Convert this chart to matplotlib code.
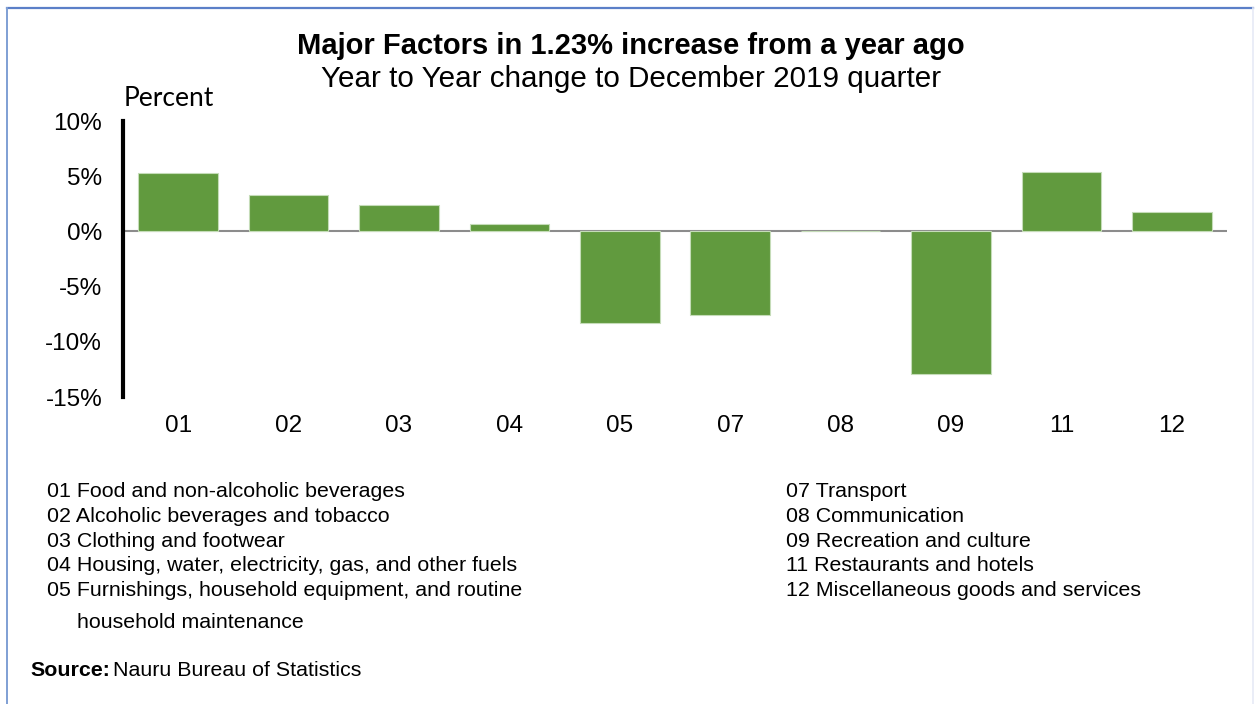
import matplotlib
matplotlib.use('Agg')
import matplotlib.pyplot as plt
from matplotlib.lines import Line2D
from matplotlib.ticker import FuncFormatter

# CPI year-to-year change by COICOP group, December 2019 quarter
groups = ['01', '02', '03', '04', '05', '07', '08', '09', '11', '12']
change = [5.3, 3.3, 2.4, 0.7, -8.3, -7.6, 0.0, -12.9, 5.4, 1.8]

legend_left = [
    '01 Food and non-alcoholic beverages',
    '02 Alcoholic beverages and tobacco',
    '03 Clothing and footwear',
    '04 Housing, water, electricity, gas, and other fuels',
    '05 Furnishings, household equipment, and routine',
]
legend_left_wrap = 'household maintenance'
legend_right = [
    '07 Transport',
    '08 Communication',
    '09 Recreation and culture',
    '11 Restaurants and hotels',
    '12 Miscellaneous goods and services',
]

plt.rcParams['font.family'] = ['Liberation Sans', 'DejaVu Sans']

fig = plt.figure(figsize=(12.55, 7.04), dpi=100)
W, H = 1255, 704

def fx(px):
    return px / W

def fy(py):
    return 1 - py / H

# frame: blue top and left edges, faint right edge
fig.add_artist(Line2D([fx(7), fx(1253)], [fy(8), fy(8)], color='#5b7fc8', lw=1.6))
fig.add_artist(Line2D([fx(7), fx(7)], [fy(8), 0], color='#7f9fd4', lw=1.4))
fig.add_artist(Line2D([fx(1253), fx(1253)], [fy(8), 0], color='#e6eaf6', lw=1.2))

ax = fig.add_axes([fx(123), fy(397), fx(1227) - fx(123), fy(121) - fy(397)])
x = range(len(groups))
ax.bar(x, change, width=0.72, color='#619a3e', edgecolor='#c5dcb8', linewidth=0.8, zorder=2)
ax.axhline(0, color='#8c8c8c', linewidth=1.5, zorder=1)

ax.set_xlim(-0.5, len(groups) - 0.5)
ax.set_ylim(-15, 10)
ax.set_yticks([10, 5, 0, -5, -10, -15])
ax.yaxis.set_major_formatter(FuncFormatter(lambda v, p: f'{v:.0f}%'))
ax.set_xticks(list(x))
ax.set_xticklabels(groups)
ax.tick_params(axis='both', length=0, labelsize=17.5)
ax.tick_params(axis='y', pad=15)
ax.tick_params(axis='x', pad=13)

for side in ['top', 'right', 'bottom']:
    ax.spines[side].set_visible(False)
ax.spines['left'].set_linewidth(3)
ax.spines['left'].set_color('black')

fig.text(fx(631), fy(46), 'Major Factors in 1.23% increase from a year ago',
         ha='center', va='center', fontsize=21, fontweight='bold')
fig.text(fx(631), fy(79), 'Year to Year change to December 2019 quarter',
         ha='center', va='center', fontsize=21.3)
fig.text(fx(124), fy(98), 'Percent', ha='left', va='center', fontsize=19,
         family=['Lato', 'DejaVu Sans'])

# category key below the chart
rows = [497, 522, 547, 571, 596]
for label, ry in zip(legend_left, rows):
    fig.text(fx(47), fy(ry), label, ha='left', va='baseline', fontsize=15.4)
fig.text(fx(77), fy(628), legend_left_wrap, ha='left', va='baseline', fontsize=15.4)
for label, ry in zip(legend_right, rows):
    fig.text(fx(786), fy(ry), label, ha='left', va='baseline', fontsize=15.4)

fig.text(fx(30), fy(676), 'Source:', ha='left', va='baseline', fontsize=15.4,
         fontweight='bold')
fig.text(fx(113), fy(676), 'Nauru Bureau of Statistics', ha='left', va='baseline',
         fontsize=15.4)

fig.savefig('out.png', dpi=100)
